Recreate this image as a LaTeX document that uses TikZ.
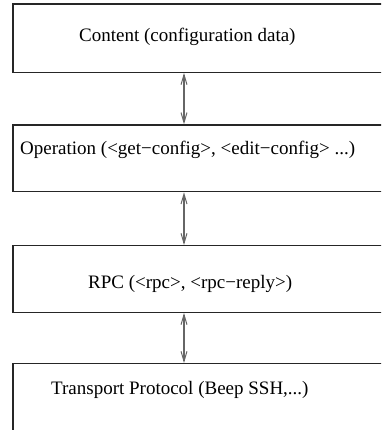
\documentclass[tikz,border=0pt]{standalone}
\usepackage{fontspec}
\setmainfont{Liberation Serif}
\usetikzlibrary{arrows.meta}
\begin{document}
\begin{tikzpicture}[x=1pt,y=-1pt,
  layerbox/.style={draw=black!85,line width=1.3pt,anchor=north west,inner sep=0pt,minimum width=420pt},
  layertext/.style={anchor=base west,inner sep=0pt,font=\fontsize{19}{23}\selectfont},
  arr/.style={draw=black!60,line width=1.3pt,{Straight Barb[length=10pt,width=6pt,line width=1pt]}-{Straight Barb[length=10pt,width=6pt,line width=1pt]}}]
\useasboundingbox (0,0) rectangle (381,430);
\clip (0,0) rectangle (381,430);
\node[layerbox,minimum height=68.4pt] (b1) at (12.3,3.3) {};
\node[layerbox,minimum height=66.7pt] (b2) at (12.3,124.3) {};
\node[layerbox,minimum height=66.7pt] (b3) at (12.3,245) {};
\node[layerbox,minimum height=100pt] (b4) at (12.3,363) {};
\node[layertext] (t1) at (79,41.7) {Content (configuration data)};
\node[layertext] (t2) at (20,155) {Operation (<get−config>, <edit−config> ...)};
\node[layertext] (t3) at (88,288) {RPC (<rpc>, <rpc−reply>)};
\node[layertext] (t4) at (51,394) {Transport Protocol (Beep SSH,...)};
\coordinate (ax) at (184,0);
\draw[arr] (b1.south -| ax) -- (b2.north -| ax);
\draw[arr] (b2.south -| ax) -- (b3.north -| ax);
\draw[arr] (b3.south -| ax) -- (b4.north -| ax);
\end{tikzpicture}
\end{document}
